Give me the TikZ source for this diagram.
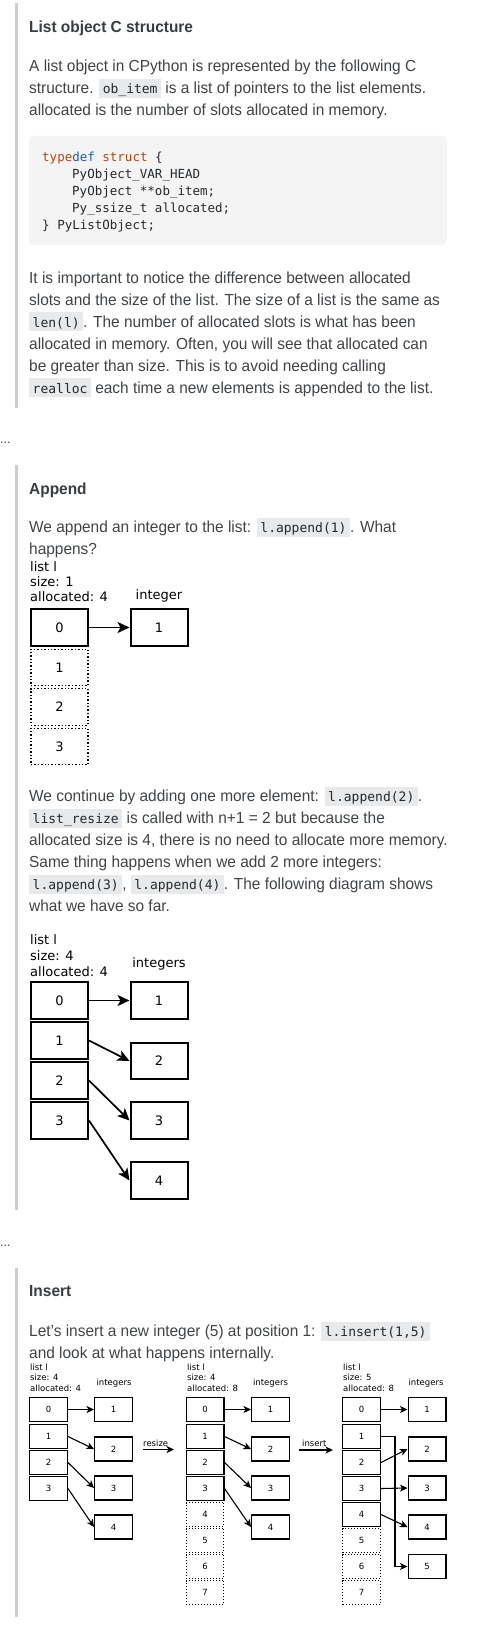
\documentclass[tikz,border=0pt]{standalone}
\usepackage{fontspec}
\setmainfont{Liberation Sans}[FakeStretch=0.965]
\newfontfamily\dv{DejaVu Sans}
\newfontfamily\mono{DejaVu Sans Mono}
\usetikzlibrary{arrows.meta}
\definecolor{bodytext}{HTML}{404448}
\definecolor{headtext}{HTML}{383D43}
\definecolor{barcol}{HTML}{CACDD1}
\definecolor{codebg}{HTML}{E7E9EB}
\definecolor{blockbg}{HTML}{F4F4F4}
\definecolor{kwor}{HTML}{B3470F}
\definecolor{kwbl}{HTML}{1F5FA0}
\definecolor{codetext}{HTML}{24292E}
\newcommand{\ic}[1]{{\setlength{\fboxsep}{0pt}\colorbox{codebg}{\hspace{3.5pt}\rule[-4pt]{0pt}{19pt}{\mono\fontsize{13}{17}\selectfont\color{codetext}#1}\hspace{3.5pt}}}}
\tikzset{
  txt/.style={anchor=base west, inner sep=0pt, text=bodytext, font=\fontsize{16}{22}\selectfont},
  head/.style={anchor=base west, inner sep=0pt, text=headtext, font=\fontsize{16}{22}\selectfont\bfseries},
  codeln/.style={anchor=base west, inner sep=0pt, text=codetext, font=\mono\fontsize{12.5}{17}\selectfont},
  dlab/.style={anchor=base west, inner sep=0pt, font=\dv\fontsize{13}{15}\selectfont},
  dlabc/.style={anchor=base, inner sep=0pt, font=\dv\fontsize{13}{15}\selectfont},
  cell/.style={draw, line width=2pt, minimum width=57pt, minimum height=36.5pt, inner sep=0pt, font=\dv\fontsize{13}{15}\selectfont},
  dcell/.style={cell, line width=1.4pt, dotted},
  slab/.style={anchor=base west, inner sep=0pt, font=\dv\fontsize{8.5}{10}\selectfont},
  slabc/.style={anchor=base, inner sep=0pt, font=\dv\fontsize{8.5}{10}\selectfont},
  scell/.style={draw, line width=1.3pt, minimum width=37.7pt, minimum height=24pt, inner sep=0pt, font=\dv\fontsize{8.5}{10}\selectfont},
  sdcell/.style={scell, line width=1pt, dotted},
  arr/.style={-{Stealth[length=12pt,width=11pt,inset=3pt]}, line width=1.7pt},
  sarr/.style={-{Stealth[length=7.5pt,width=7pt,inset=2pt]}, line width=1.1pt},
  bar/.style={fill=barcol},
}
\begin{document}
\begin{tikzpicture}[x=1pt,y=-1pt]
\useasboundingbox (0,0) rectangle (478,1643);
\fill[white] (0,0) rectangle (478,1643);

% ---------- Section 1 ----------
\fill[bar] (14.5,3) rectangle (17.5,408);
\node[head] (t1) at (29,33) {List object C structure};
\node[txt] (p1a) at (29,72) {A list object in CPython is represented by the following C};
\node[txt] (p1b) at (29,94) {structure. \ic{ob\_item} is a list of pointers to the list elements.};
\node[txt] (p1c) at (29,116) {allocated is the number of slots allocated in memory.};
\fill[blockbg, rounded corners=5pt] (29,136) rectangle (447,245);
\node[codeln] (c1) at (42,161.5) {\textcolor{kwor}{type}\textcolor{kwbl}{def} \textcolor{kwor}{struct} \{};
\node[codeln] (c2) at (72,178.5) {PyObject\_VAR\_HEAD};
\node[codeln] (c3) at (72,195.5) {PyObject **ob\_item;};
\node[codeln] (c4) at (72,212.5) {Py\_ssize\_t allocated;};
\node[codeln] (c5) at (42,229) {\} PyListObject;};
\node[txt] (p2a) at (29,283) {It is important to notice the difference between allocated};
\node[txt] (p2b) at (29,305) {slots and the size of the list. The size of a list is the same as};
\node[txt] (p2c) at (29,327) {\ic{len(l)}. The number of allocated slots is what has been};
\node[txt] (p2d) at (29,349) {allocated in memory. Often, you will see that allocated can};
\node[txt] (p2e) at (29,371) {be greater than size. This is to avoid needing calling};
\node[txt] (p2f) at (29,393) {\ic{realloc} each time a new elements is appended to the list.};
\node[txt, font=\fontsize{13}{15}\selectfont] (dots1) at (0,443) {...};

% ---------- Section 2 ----------
\fill[bar] (14.5,465) rectangle (17.5,1210);
\node[head] (t2) at (29,494) {Append};
\node[txt] (p3a) at (29,532.5) {We append an integer to the list: \ic{l.append(1)}. What};
\node[txt] (p3b) at (29,554.5) {happens?};
\node[dlab] (d1l1) at (30,571.5) {list l};
\node[dlab] (d1l2) at (30,586.5) {size: 1};
\node[dlab] (d1l3) at (30,601.5) {allocated: 4};
\node[dlabc] (d1int) at (159,599.5) {integer};
\node[cell] (a0) at (59.5,627.5) {0};
\node[dcell] (a1) at (59.5,667.5) {1};
\node[dcell] (a2) at (59.5,707) {2};
\node[dcell] (a3) at (59.5,746.5) {3};
\node[cell] (ai1) at (159,627.5) {1};
\draw[arr] (a0.east) -- (ai1.west);

\node[txt] (p4a) at (29,801.5) {We continue by adding one more element: \ic{l.append(2)}.};
\node[txt] (p4b) at (29,823.5) {\ic{list\_resize} is called with n+1 = 2 but because the};
\node[txt] (p4c) at (29,845.5) {allocated size is 4, there is no need to allocate more memory.};
\node[txt] (p4d) at (29,867.5) {Same thing happens when we add 2 more integers:};
\node[txt] (p4e) at (29,889.5) {\ic{l.append(3)}, \ic{l.append(4)}. The following diagram shows};
\node[txt] (p4f) at (29,911.5) {what we have so far.};

\node[dlab] (d2l1) at (30,944.5) {list l};
\node[dlab] (d2l2) at (30,960.5) {size: 4};
\node[dlab] (d2l3) at (30,976.5) {allocated: 4};
\node[dlabc] (d2int) at (159,967.5) {integers};
\node[cell] (b0) at (59.5,1000.5) {0};
\node[cell] (b1) at (59.5,1040.5) {1};
\node[cell] (b2) at (59.5,1080.5) {2};
\node[cell] (b3) at (59.5,1120.5) {3};
\node[cell] (bi1) at (159,1000.5) {1};
\node[cell] (bi2) at (159,1061) {2};
\node[cell] (bi3) at (159,1120.5) {3};
\node[cell] (bi4) at (159,1180.5) {4};
\draw[arr] (b0.east) -- (bi1.west);
\draw[arr] (b1.east) -- (bi2.west);
\draw[arr] (b2.east) -- (bi3.west);
\draw[arr] (b3.east) -- (bi4.west);
\node[txt, font=\fontsize{13}{15}\selectfont] (dots2) at (0,1246) {...};

% ---------- Section 3 ----------
\fill[bar] (14.5,1268) rectangle (17.5,1617);
\node[head] (t3) at (29,1296.5) {Insert};
\node[txt] (p5a) at (29,1336.5) {Let’s insert a new integer (5) at position 1: \ic{l.insert(1,5)}};
\node[txt] (p5b) at (29,1358) {and look at what happens internally.};

% diagram A
\node[slab] (ea1) at (30,1370) {list l};
\node[slab] (ea2) at (30,1380.5) {size: 4};
\node[slab] (ea3) at (30,1391) {allocated: 4};
\node[slabc] (eaint) at (114,1385.5) {integers};
\node[scell] (e0) at (48.5,1409.5) {0};
\node[scell] (e1) at (48.5,1436.5) {1};
\node[scell] (e2) at (48.5,1462.5) {2};
\node[scell] (e3) at (48.5,1488.5) {3};
\node[scell] (ei1) at (113.5,1409.5) {1};
\node[scell] (ei2) at (113.5,1449) {2};
\node[scell] (ei3) at (113.5,1488) {3};
\node[scell] (ei4) at (113.5,1527) {4};
\draw[sarr] (e0.east) -- (ei1.west);
\draw[sarr] (e1.east) -- (ei2.west);
\draw[sarr] (e2.east) -- (ei3.west);
\draw[sarr] (e3.east) -- (ei4.west);

\coordinate (rsA) at (143,1449.5);
\coordinate (rsB) at (174,1449.5);
\draw[sarr] (rsA) -- (rsB);
\node[slab] (rslab) at (143,1446) {resize};

% diagram B
\node[slab] (fa1) at (187,1370) {list l};
\node[slab] (fa2) at (187,1380.5) {size: 4};
\node[slab] (fa3) at (187,1391) {allocated: 8};
\node[slabc] (faint) at (270.5,1385.5) {integers};
\node[scell] (f0) at (205,1409.5) {0};
\node[scell] (f1) at (205,1436.5) {1};
\node[scell] (f2) at (205,1462.5) {2};
\node[scell] (f3) at (205,1488.5) {3};
\node[sdcell] (f4) at (205,1514.5) {4};
\node[sdcell] (f5) at (205,1540.5) {5};
\node[sdcell] (f6) at (205,1566.5) {6};
\node[sdcell] (f7) at (205,1592.5) {7};
\node[scell] (fi1) at (270.5,1409.5) {1};
\node[scell] (fi2) at (270.5,1449) {2};
\node[scell] (fi3) at (270.5,1488) {3};
\node[scell] (fi4) at (270.5,1527) {4};
\draw[sarr] (f0.east) -- (fi1.west);
\draw[sarr] (f1.east) -- (fi2.west);
\draw[sarr] (f2.east) -- (fi3.west);
\draw[sarr] (f3.east) -- (fi4.west);

\coordinate (inA) at (299,1450);
\coordinate (inB) at (333,1450);
\draw[sarr] (inA) -- (inB);
\node[slab] (inlab) at (302,1446) {insert};

% diagram C
\node[slab] (ga1) at (343,1370) {list l};
\node[slab] (ga2) at (343,1380.5) {size: 5};
\node[slab] (ga3) at (343,1391) {allocated: 8};
\node[slabc] (gaint) at (426,1385.5) {integers};
\node[scell] (g0) at (361.5,1409.5) {0};
\node[scell] (g1) at (361.5,1436.5) {1};
\node[scell] (g2) at (361.5,1462.5) {2};
\node[scell] (g3) at (361.5,1488.5) {3};
\node[scell] (g4) at (361.5,1514.5) {4};
\node[sdcell] (g5) at (361.5,1540.5) {5};
\node[sdcell] (g6) at (361.5,1566.5) {6};
\node[sdcell] (g7) at (361.5,1592.5) {7};
\node[scell] (gi1) at (427,1409.5) {1};
\node[scell] (gi2) at (427,1449) {2};
\node[scell] (gi3) at (427,1488) {3};
\node[scell] (gi4) at (427,1527) {4};
\node[scell] (gi5) at (427,1566.5) {5};
\draw[sarr] (g0.east) -- (gi1.west);
\draw[sarr] (g1.east) -- ([xshift=14pt]g1.east) |- (gi5.west);
\draw[sarr] (g2.east) -- (gi2.west);
\draw[sarr] (g3.east) -- (gi3.west);
\draw[sarr] (g4.east) -- (gi4.west);
\end{tikzpicture}
\end{document}
